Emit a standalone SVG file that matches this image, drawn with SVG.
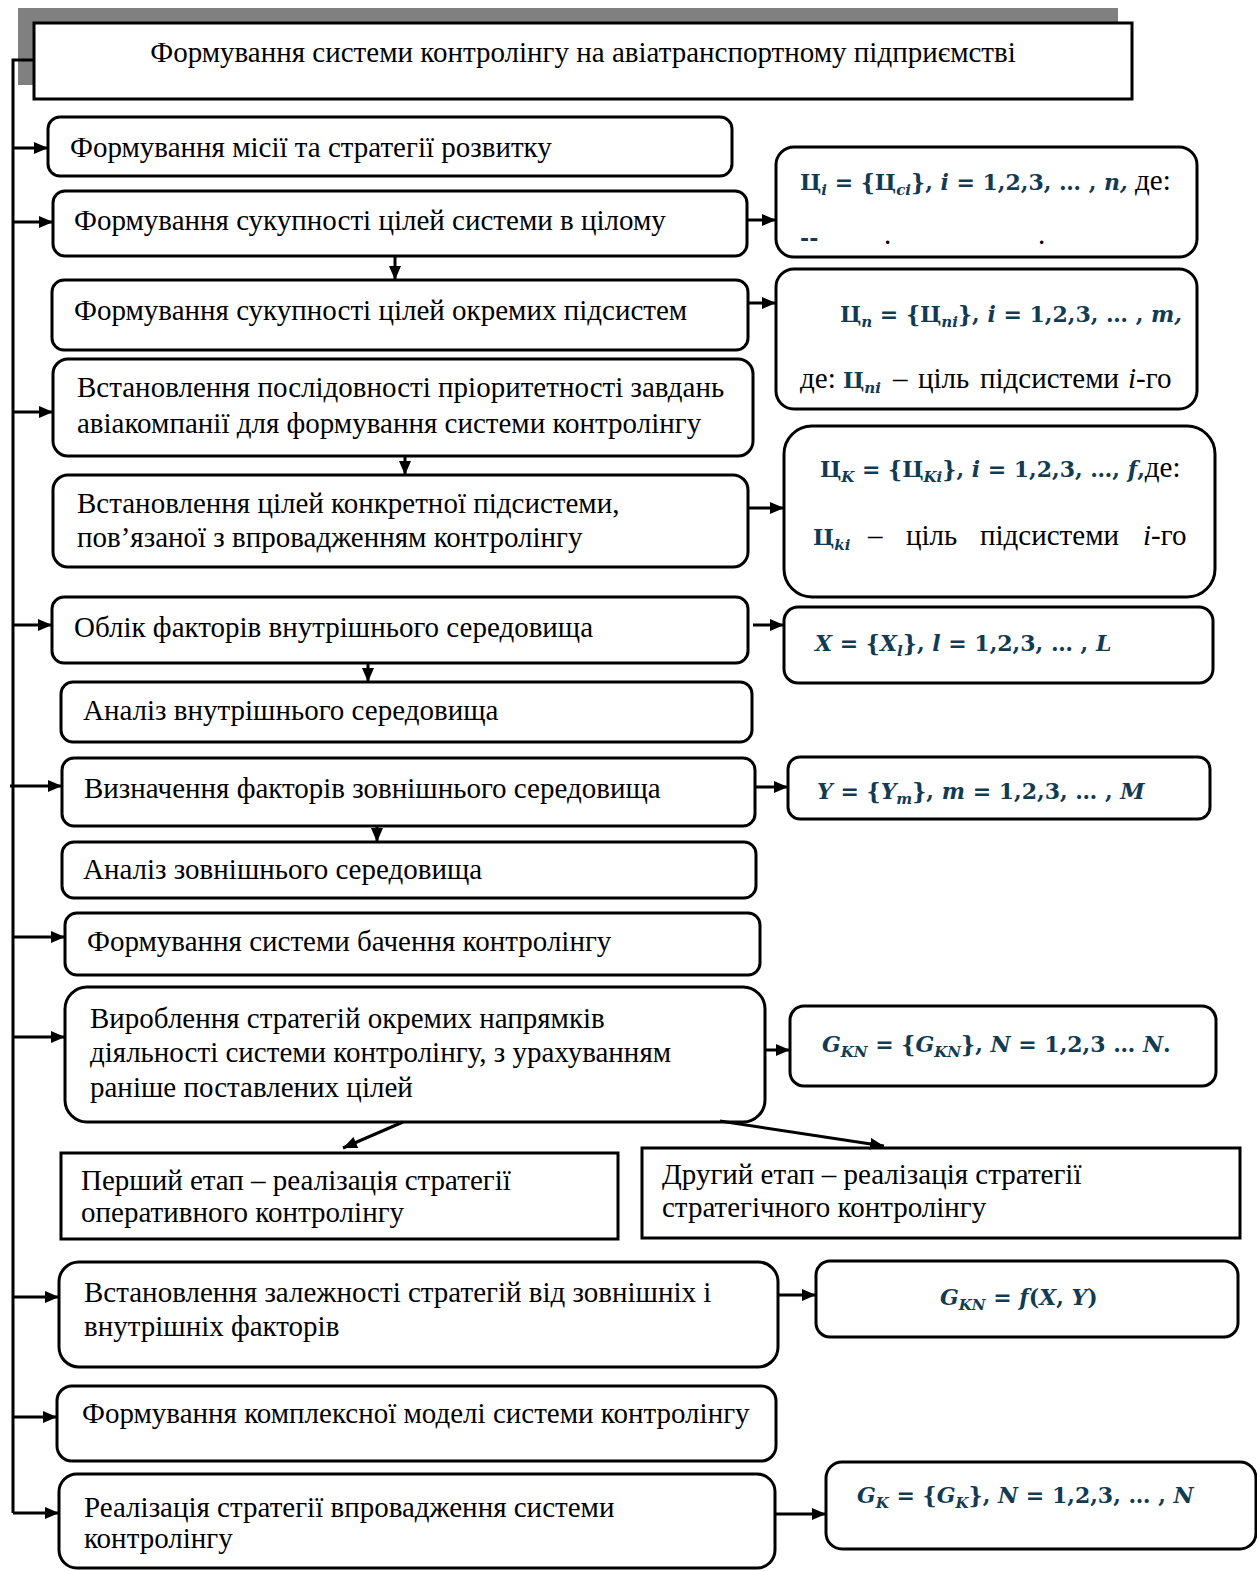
<svg xmlns="http://www.w3.org/2000/svg" width="1257" height="1571" viewBox="0 0 1257 1571">
<style>
.b{fill:#fff;stroke:#000;stroke-width:3}
.t{font-family:'Liberation Serif','Times New Roman',serif;font-size:29px;fill:#000}
.f{font-family:'DejaVu Serif',serif;font-size:22px;font-weight:bold;fill:#123b52}
.n{font-family:'Liberation Serif','Times New Roman',serif;font-size:29px;font-weight:normal;font-style:normal;fill:#000}
.it{font-style:italic}
.sb{font-size:15px;font-style:italic}
.c{fill:none;stroke:#000;stroke-width:3}
</style>
<defs>
<marker id="a" viewBox="0 0 14 12" refX="14" refY="6" markerWidth="14" markerHeight="12" markerUnits="userSpaceOnUse" orient="auto"><path d="M0,0 L14,6 L0,12 z" fill="#000"/></marker>
</defs>
<rect width="1257" height="1571" fill="#fff"/>
<g id="title">
<rect x="18" y="8" width="1100" height="77" fill="#808080"/>
<rect class="b" x="34" y="23" width="1098" height="76"/>
<text class="t" x="583" y="62" text-anchor="middle">Формування системи контролінгу на авіатранспортному підприємстві</text>
</g>
<g id="n1"><rect class="b" x="48" y="117" width="684" height="59" rx="12"/><text class="t" x="70" y="157">Формування місії та стратегії розвитку</text></g>
<g id="n2"><rect class="b" x="53" y="191" width="694" height="65" rx="12"/><text class="t" x="74" y="230">Формування сукупності цілей системи в цілому</text></g>
<g id="n3"><rect class="b" x="52" y="280" width="696" height="70" rx="12"/><text class="t" x="74" y="320">Формування сукупності цілей окремих підсистем</text></g>
<g id="n4"><rect class="b" x="53" y="359" width="700" height="97" rx="15"/><text class="t" x="77" y="397">Встановлення послідовності пріоритетності завдань</text><text class="t" x="77" y="433">авіакомпанії для формування системи контролінгу</text></g>
<g id="n5"><rect class="b" x="53" y="475" width="695" height="92" rx="15"/><text class="t" x="77" y="513">Встановлення цілей конкретної підсистеми,</text><text class="t" x="77" y="547">пов’язаної з впровадженням контролінгу</text></g>
<g id="n6"><rect class="b" x="52" y="597" width="696" height="66" rx="12"/><text class="t" x="74" y="637">Облік факторів внутрішнього середовища</text></g>
<g id="n7"><rect class="b" x="61" y="682" width="691" height="60" rx="12"/><text class="t" x="83" y="720">Аналіз внутрішнього середовища</text></g>
<g id="n8"><rect class="b" x="62" y="758" width="693" height="68" rx="12"/><text class="t" x="84" y="798">Визначення факторів зовнішнього середовища</text></g>
<g id="n9"><rect class="b" x="62" y="842" width="694" height="56" rx="12"/><text class="t" x="83" y="879">Аналіз зовнішнього середовища</text></g>
<g id="n10"><rect class="b" x="65" y="913" width="695" height="62" rx="12"/><text class="t" x="87" y="951">Формування системи бачення контролінгу</text></g>
<g id="n11"><rect class="b" x="65" y="987" width="700" height="135" rx="22"/><text class="t" x="90" y="1028">Вироблення стратегій окремих напрямків</text><text class="t" x="90" y="1062">діяльності системи контролінгу, з урахуванням</text><text class="t" x="90" y="1097">раніше поставлених цілей</text></g>
<g id="n12"><rect class="b" x="61" y="1153" width="557" height="86"/><text class="t" x="81" y="1190">Перший етап – реалізація стратегії</text><text class="t" x="81" y="1222">оперативного контролінгу</text></g>
<g id="n13"><rect class="b" x="642" y="1148" width="598" height="90"/><text class="t" x="662" y="1184">Другий етап – реалізація стратегії</text><text class="t" x="662" y="1217">стратегічного контролінгу</text></g>
<g id="n14"><rect class="b" x="59" y="1262" width="719" height="105" rx="20"/><text class="t" x="84" y="1302">Встановлення залежності стратегій від зовнішніх і</text><text class="t" x="84" y="1336">внутрішніх факторів</text></g>
<g id="n15"><rect class="b" x="57" y="1386" width="719" height="75" rx="15"/><text class="t" x="82" y="1423">Формування комплексної моделі системи контролінгу</text></g>
<g id="n16"><rect class="b" x="59" y="1474" width="716" height="94" rx="18"/><text class="t" x="84" y="1517">Реалізація стратегії впровадження системи</text><text class="t" x="84" y="1548">контролінгу</text></g>

<g id="r1"><rect class="b" x="776" y="147" width="421" height="110" rx="18"/>
<text class="f" x="800" y="190">Ц<tspan class="sb" dy="5">i</tspan><tspan dy="-5"> = {Ц</tspan><tspan class="sb" dy="5">ci</tspan><tspan dy="-5">}, </tspan><tspan class="it">i</tspan> = 1,2,3, … , <tspan class="it">n,</tspan><tspan class="n"> де:</tspan></text>
<text class="f" x="800" y="246" font-size="14">--</text><text class="t" x="884" y="244" font-size="16">.</text><text class="t" x="1038" y="244" font-size="16">.</text>
</g>
<g id="r2"><rect class="b" x="776" y="269" width="421" height="140" rx="18"/>
<text class="f" x="840" y="322">Ц<tspan class="sb" dy="5">n</tspan><tspan dy="-5"> = {Ц</tspan><tspan class="sb" dy="5">ni</tspan><tspan dy="-5">}, </tspan><tspan class="it">i</tspan> = 1,2,3, … , <tspan class="it">m,</tspan></text>
<text class="t" x="800" y="388">де:</text>
<text class="f" x="843" y="388">Ц<tspan class="sb" dy="5">ni</tspan></text>
<text class="t" x="893" y="388">–</text><text class="t" x="918" y="388">ціль</text><text class="t" x="980" y="388">підсистеми</text><text class="t" x="1128" y="388"><tspan class="it">i</tspan>-го</text>
</g>
<g id="r3"><rect class="b" x="784" y="426" width="431" height="171" rx="28"/>
<text class="f" x="820" y="477">Ц<tspan class="sb" dy="5">K</tspan><tspan dy="-5"> = {Ц</tspan><tspan class="sb" dy="5">Ki</tspan><tspan dy="-5">}, </tspan><tspan class="it">i</tspan> = 1,2,3, …, <tspan class="it">f</tspan>,<tspan class="n">де:</tspan></text>
<text class="f" x="813" y="545">Ц<tspan class="sb" dy="5">ki</tspan></text>
<text class="t" x="868" y="545">–</text><text class="t" x="906" y="545">ціль</text><text class="t" x="980" y="545">підсистеми</text><text class="t" x="1143" y="545"><tspan class="it">i</tspan>-го</text>
</g>
<g id="r4"><rect class="b" x="784" y="607" width="429" height="76" rx="14"/>
<text class="f" x="815" y="651"><tspan class="it">X</tspan> = {<tspan class="it">X</tspan><tspan class="sb" dy="5">l</tspan><tspan dy="-5">}, </tspan><tspan class="it">l</tspan> = 1,2,3, … , <tspan class="it">L</tspan></text>
</g>
<g id="r5"><rect class="b" x="788" y="757" width="422" height="62" rx="12"/>
<text class="f" x="817" y="799"><tspan class="it">Y</tspan> = {<tspan class="it">Y</tspan><tspan class="sb" dy="5">m</tspan><tspan dy="-5">}, </tspan><tspan class="it">m</tspan> = 1,2,3, … , <tspan class="it">M</tspan></text>
</g>
<g id="r6"><rect class="b" x="790" y="1006" width="426" height="80" rx="14"/>
<text class="f" x="822" y="1052"><tspan class="it">G</tspan><tspan class="sb" dy="5">KN</tspan><tspan dy="-5"> = {</tspan><tspan class="it">G</tspan><tspan class="sb" dy="5">KN</tspan><tspan dy="-5">}, </tspan><tspan class="it">N</tspan> = 1,2,3 … <tspan class="it">N</tspan>.</text>
</g>
<g id="r7"><rect class="b" x="816" y="1261" width="422" height="76" rx="14"/>
<text class="f" x="940" y="1305"><tspan class="it">G</tspan><tspan class="sb" dy="5">KN</tspan><tspan dy="-5"> = </tspan><tspan class="it">f</tspan>(<tspan class="it">X</tspan>, <tspan class="it">Y</tspan>)</text>
</g>
<g id="r8"><rect class="b" x="826" y="1462" width="430" height="87" rx="16"/>
<text class="f" x="857" y="1503"><tspan class="it">G</tspan><tspan class="sb" dy="5">K</tspan><tspan dy="-5"> = {</tspan><tspan class="it">G</tspan><tspan class="sb" dy="5">K</tspan><tspan dy="-5">}, </tspan><tspan class="it">N</tspan> = 1,2,3, … , <tspan class="it">N</tspan></text>
</g>

<g id="connectors">
<path class="c" d="M34,60 H13 V1513"/>
<path class="c" d="M13,148 H48" marker-end="url(#a)"/>
<path class="c" d="M13,222 H53" marker-end="url(#a)"/>
<path class="c" d="M13,412 H53" marker-end="url(#a)"/>
<path class="c" d="M13,625 H52" marker-end="url(#a)"/>
<path class="c" d="M10,786 H62" marker-end="url(#a)"/>
<path class="c" d="M13,937 H65" marker-end="url(#a)"/>
<path class="c" d="M13,1037 H65" marker-end="url(#a)"/>
<path class="c" d="M13,1297 H59" marker-end="url(#a)"/>
<path class="c" d="M13,1417 H57" marker-end="url(#a)"/>
<path class="c" d="M13,1513 H59" marker-end="url(#a)"/>
<path class="c" d="M395,257 V280" stroke-width="2" marker-end="url(#a)"/>
<path class="c" d="M405,457 V475" stroke-width="2" marker-end="url(#a)"/>
<path class="c" d="M368,664 V682" stroke-width="2" marker-end="url(#a)"/>
<path class="c" d="M377,827 V842" stroke-width="2" marker-end="url(#a)"/>
<path class="c" d="M403,1122 L343,1148" marker-end="url(#a)"/>
<path class="c" d="M720,1121 L884,1146" marker-end="url(#a)"/>
<path class="c" d="M748,220 H776" marker-end="url(#a)"/>
<path class="c" d="M748,303 H776" marker-end="url(#a)"/>
<path class="c" d="M748,508 H784" marker-end="url(#a)"/>
<path class="c" d="M753,625 H784" marker-end="url(#a)"/>
<path class="c" d="M755,787 H788" marker-end="url(#a)"/>
<path class="c" d="M765,1050 H790" marker-end="url(#a)"/>
<path class="c" d="M778,1295 H816" marker-end="url(#a)"/>
<path class="c" d="M775,1514 H826" marker-end="url(#a)"/>
</g>
</svg>
